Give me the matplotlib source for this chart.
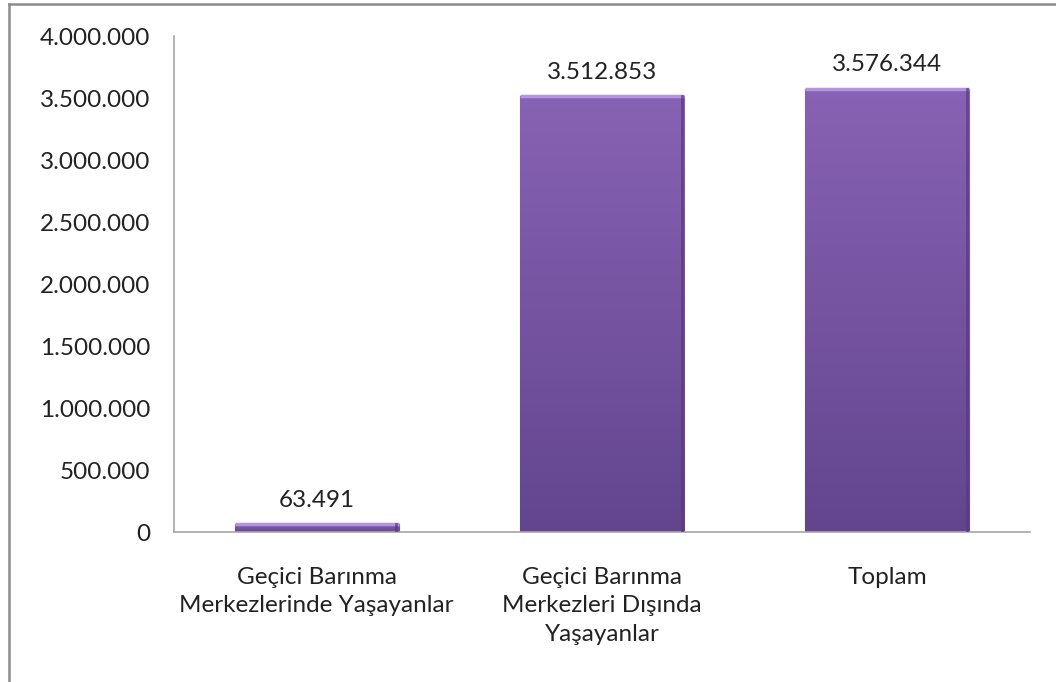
import matplotlib.pyplot as plt
import numpy as np
from matplotlib.lines import Line2D

categories = ['Geçici Barınma\nMerkezlerinde Yaşayanlar',
              'Geçici Barınma\nMerkezleri Dışında\nYaşayanlar',
              'Toplam']
values = [63491, 3512853, 3576344]
yticks = [0, 500000, 1000000, 1500000, 2000000, 2500000, 3000000, 3500000, 4000000]


def tr_format(v):
    return f'{int(v):,}'.replace(',', '.')


plt.rcParams['font.family'] = ['Lato', 'DejaVu Sans']

fig = plt.figure(figsize=(10.56, 6.82), dpi=100)
ax = fig.add_axes([0.1648, 0.2199, 0.9754 - 0.1648, 0.9472 - 0.2199])

x = np.arange(len(categories))
width = 0.575

# gradient for the bars: lighter at the top, darker at the bottom
top_col = np.array([0x88, 0x62, 0xb4]) / 255
bot_col = np.array([0x63, 0x45, 0x8e]) / 255
grad = np.linspace(0, 1, 256)[:, None]
img = bot_col[None, None, :] * (1 - grad[:, :, None]) + top_col[None, None, :] * grad[:, :, None]
img = np.repeat(img, 2, axis=1)

bars = ax.bar(x, values, width=width, color='#7a58a6', edgecolor='#56397a', linewidth=0.8, zorder=2)
for b, v in zip(bars, values):
    x0 = b.get_x()
    im = ax.imshow(img, extent=[x0, x0 + width, 0, v], origin='lower',
                   aspect='auto', zorder=2.5)
    im.set_clip_path(b)
    # bevel: light top edge, darker right edge
    ax.plot([x0, x0 + width], [v, v], color='#b394de', linewidth=2.5, zorder=3,
            solid_capstyle='butt')
    ax.plot([x0 + width * 0.985, x0 + width * 0.985], [0, v], color='#56397c', linewidth=2,
            zorder=3, alpha=0.7)
    ax.text(b.get_x() + width / 2, v + 110000, tr_format(v), ha='center', va='bottom',
            fontsize=17.5, color='#222222')

ax.set_xlim(-0.5, len(categories) - 0.5)
ax.set_ylim(0, 4000000)
ax.set_yticks(yticks)
ax.set_yticklabels([tr_format(t) for t in yticks], fontsize=17.5, color='#222222')
ax.set_xticks(x)
ax.set_xticklabels(categories, fontsize=17.5, color='#222222', linespacing=1.45)
ax.tick_params(axis='both', length=0)
ax.tick_params(axis='x', pad=25)
ax.tick_params(axis='y', pad=17)

for s in ['top', 'right']:
    ax.spines[s].set_visible(False)
for s in ['left', 'bottom']:
    ax.spines[s].set_color('#a6a6a6')
    ax.spines[s].set_linewidth(1.2)

# outer chart frame (only left and top visible)
fig.add_artist(Line2D([9 / 1056, 9 / 1056], [0, 1 - 4 / 682], color='#8c8c8c', linewidth=1.8,
                      transform=fig.transFigure))
fig.add_artist(Line2D([9 / 1056, 1], [1 - 4 / 682, 1 - 4 / 682], color='#8c8c8c', linewidth=1.8,
                      transform=fig.transFigure))

fig.savefig('out.png', dpi=100)
